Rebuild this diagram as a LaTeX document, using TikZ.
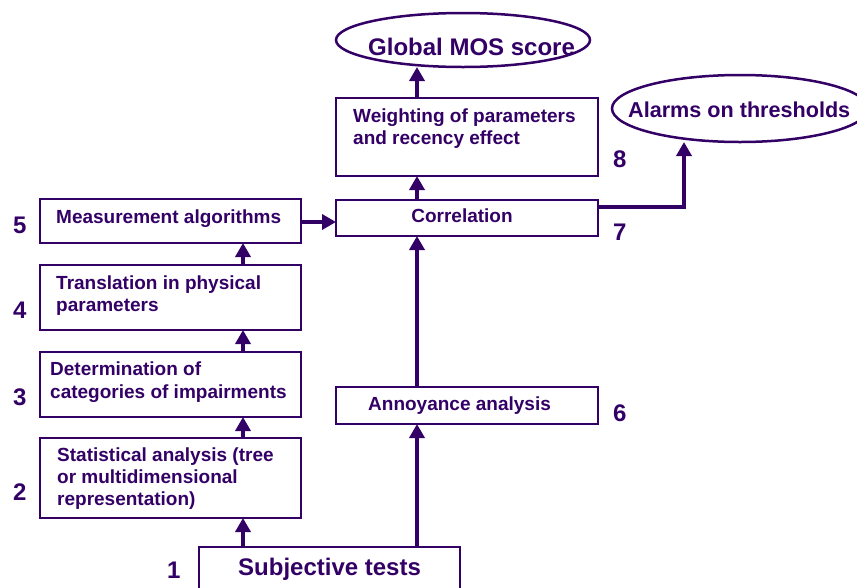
\documentclass[tikz,border=0pt]{standalone}
\usepackage{fontspec}
\setmainfont{Liberation Sans}
\usetikzlibrary{arrows.meta,shapes.geometric}
\definecolor{ink}{HTML}{330066}
\tikzset{
  box/.style={draw=ink, line width=2.5pt, rectangle, inner sep=0pt, outer sep=0pt, anchor=north west},
  oval/.style={draw=ink, line width=2.5pt, ellipse, inner sep=0pt, outer sep=0pt},
  arr/.style={draw=ink, line width=3.5pt, -{Triangle[length=14pt,width=15pt]}},
  txt/.style={text=ink, inner sep=0pt, anchor=base west, font=\bfseries\fontsize{19}{22}\selectfont},
  big/.style={text=ink, inner sep=0pt, anchor=base west, font=\bfseries\fontsize{#1}{#1}\selectfont},
  num/.style={text=ink, inner sep=0pt, anchor=base west, font=\bfseries\fontsize{24}{28}\selectfont},
}
\begin{document}
\begin{tikzpicture}[x=1pt,y=-1pt]
\useasboundingbox (0,0) rectangle (857,587);
\clip (0,0) rectangle (857,587);

% outputs
\node[oval, minimum width=254pt, minimum height=54pt] (glob) at (463,40) {};
\node[oval, minimum width=256pt, minimum height=67pt] (alarm) at (740,108.5) {};

% right column
\node[box, minimum width=262pt, minimum height=78pt] (wgt) at (336,98) {};
\node[box, minimum width=262pt, minimum height=36pt] (corr) at (336,200) {};
\node[box, minimum width=262pt, minimum height=37pt] (annoy) at (336,387) {};

% left column
\node[box, minimum width=261pt, minimum height=44pt] (meas) at (40,199) {};
\node[box, minimum width=261pt, minimum height=65pt] (trans) at (40,265) {};
\node[box, minimum width=261pt, minimum height=65pt] (det) at (40,352) {};
\node[box, minimum width=261pt, minimum height=80pt] (stat) at (40,438) {};

% source
\node[box, minimum width=261pt, minimum height=60pt] (subj) at (199,547) {};

% box texts
\node[big=24] (globT) at (368,55) {Global MOS score};
\node[big=21.6] (alarmT) at (628,117) {Alarms on thresholds};
\node[txt] (wgtA) at (353,122) {Weighting of parameters};
\node[txt] (wgtB) at (353,144) {and recency effect};
\node[txt, anchor=base] (corrT) at (462,222) {Correlation};
\node[txt] (annoyT) at (368,410) {Annoyance analysis};
\node[txt] (measT) at (56,223) {Measurement algorithms};
\node[txt] (transA) at (56,289) {Translation in physical};
\node[txt] (transB) at (56,311) {parameters};
\node[txt] (detA) at (50,375) {Determination of};
\node[txt] (detB) at (50,398) {categories of impairments};
\node[txt] (statA) at (57,461) {Statistical analysis (tree};
\node[txt] (statB) at (57,483) {or multidimensional};
\node[txt] (statC) at (57,505) {representation)};
\node[big=24] (subjT) at (238,575) {Subjective tests};

% step numbers
\node[num] (n1) at (167,578) {1};
\node[num] (n2) at (13,500) {2};
\node[num] (n3) at (13,405) {3};
\node[num] (n4) at (13,318) {4};
\node[num] (n5) at (13,233) {5};
\node[num] (n6) at (613,421) {6};
\node[num] (n7) at (613,240) {7};
\node[num] (n8) at (613,167) {8};

% connector columns
\coordinate (xl) at (243,0);
\coordinate (xr) at (417,0);
\coordinate (ym) at (0,222);
\coordinate (bend) at (684,207);

\draw[arr] (subj.north -| xl) -- (stat.south -| xl);
\draw[arr] (stat.north -| xl) -- (det.south -| xl);
\draw[arr] (det.north -| xl) -- (trans.south -| xl);
\draw[arr] (trans.north -| xl) -- (meas.south -| xl);
\draw[arr] (meas.east |- ym) -- (corr.west |- ym);

\draw[arr] (subj.north -| xr) -- (annoy.south -| xr);
\draw[arr] (annoy.north -| xr) -- (corr.south -| xr);
\draw[arr] (corr.north -| xr) -- (wgt.south -| xr);
\draw[arr] (wgt.north -| xr) -- (xr |- glob.south);

\draw[arr] (corr.east |- bend) -- (bend) -- (bend |- alarm.south);
\end{tikzpicture}
\end{document}
